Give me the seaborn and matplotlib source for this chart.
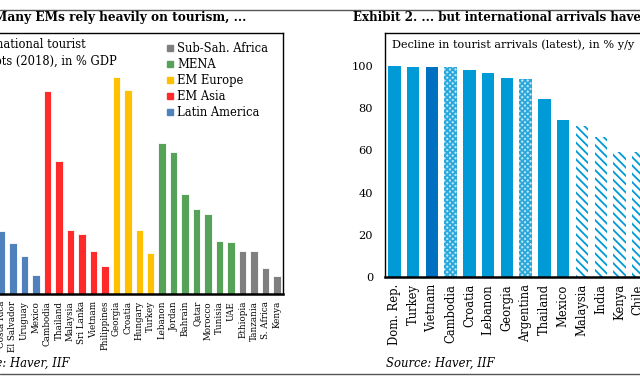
import numpy as np
import pandas as pd
import matplotlib
matplotlib.use("Agg")
import matplotlib.pyplot as plt
from matplotlib.lines import Line2D
import seaborn as sns

# ---------------- data ----------------
left_countries = ["Costa Rica", "El Salvador", "Uruguay", "Mexico",
                  "Cambodia", "Thailand", "Malaysia", "Sri Lanka", "Vietnam", "Philippines",
                  "Georgia", "Croatia", "Hungary", "Turkey",
                  "Lebanon", "Jordan", "Bahrain", "Qatar", "Morocco", "Tunisia", "UAE",
                  "Ethiopia", "Tanzania", "S. Africa", "Kenya"]
left_regions = ["Latin America"] * 4 + ["EM Asia"] * 6 + ["EM Europe"] * 4 + ["MENA"] * 7 + ["Sub-Sah. Africa"] * 4
left_values = [6.0, 4.9, 3.6, 1.8,
               19.4, 12.7, 6.1, 5.7, 4.1, 2.7,
               20.8, 19.5, 6.1, 3.9,
               14.5, 13.6, 9.6, 8.1, 7.7, 5.1, 5.0,
               4.1, 4.1, 2.5, 1.7]
legend_order = ["Sub-Sah. Africa", "MENA", "EM Europe", "EM Asia", "Latin America"]
region_colors = {"Sub-Sah. Africa": "#7f7f7f", "MENA": "#55a258", "EM Europe": "#ffc000",
                 "EM Asia": "#ff2a2a", "Latin America": "#4f81bd"}

right_countries = ["Dom. Rep.", "Turkey", "Vietnam", "Cambodia", "Croatia", "Lebanon",
                   "Georgia", "Argentina", "Thailand", "Mexico", "Malaysia", "India",
                   "Kenya", "Chile"]
right_values = [100, 99.5, 99.5, 99.2, 97.8, 96.4, 94.2, 93.6, 84.3, 74.2, 71.4, 66.4, 59.1, 59.1]
right_kind = ["solid", "solid", "dark", "dots", "solid", "solid", "solid", "dots",
              "solid", "solid", "diag", "diag", "diag", "diag"]
right_yticks = [0, 20, 40, 60, 80, 100]

# ---------------- figure ----------------
sns.set_theme(style="white")
serif = ["DejaVu Serif"]
plt.rcParams["font.family"] = serif
plt.rcParams["hatch.linewidth"] = 1.3
plt.rcParams["text.color"] = "black"
plt.rcParams["xtick.color"] = "black"
plt.rcParams["ytick.color"] = "black"

W, H = 640, 385
fig = plt.figure(figsize=(6.4, 3.85), dpi=100)

def fx(px):
    return px / W

def fy(py):
    return 1 - py / H

# ---- left panel ----
axl = fig.add_axes([fx(-20), fy(294), fx(303), (294 - 33) / H])
dfl = pd.DataFrame({"country": left_countries, "region": left_regions, "value": left_values})
sns.barplot(data=dfl, x="country", y="value", hue="region", palette=region_colors,
            dodge=False, width=0.65, legend=False, ax=axl, saturation=1,
            edgecolor="white", linewidth=0.6)
axl.set_xlim(-1.87, 24.52)
axl.set_ylim(0, 25)
axl.set_xlabel("")
axl.set_ylabel("")
axl.set_yticks([])
axl.tick_params(axis="x", length=0, pad=5, labelsize=6.3, labelcolor="black")
for lab in axl.get_xticklabels():
    lab.set_rotation(90)
    lab.set_va("top")
    lab.set_ha("center")
for s in axl.spines.values():
    s.set_color("black")
    s.set_linewidth(1.0)
axl.spines["bottom"].set_linewidth(1.8)

handles = [Line2D([0], [0], marker="s", linestyle="", markersize=5,
                  color=region_colors[r]) for r in legend_order]
axl.legend(handles, legend_order, loc="upper right", bbox_to_anchor=(fx(274), fy(36)),
           bbox_transform=fig.transFigure, frameon=False, fontsize=8.3,
           handlelength=0.6, handletextpad=0.3, labelspacing=0.26, borderpad=0,
           labelcolor="black")

fig.text(fx(86), fy(45), "International tourist", ha="right", va="center", fontsize=8.3)
fig.text(fx(117), fy(61), "receipts (2018), in % GDP", ha="right", va="center", fontsize=8.3)

# ---- right panel ----
axr = fig.add_axes([fx(385), fy(277.3), fx(315), (277.3 - 32.7) / H])
right_palette = {"solid": "#009ad6", "dark": "#0070c0", "dots": "#009ad6", "diag": "#009ad6"}
dfr = pd.DataFrame({"country": right_countries, "value": right_values})
sns.barplot(data=dfr, x="country", y="value", hue="country",
            palette=[right_palette[k] for k in right_kind], width=0.66, legend=False,
            ax=axr, saturation=1, linewidth=0)
for patch, kind in zip(axr.patches, right_kind):
    if kind == "dots":
        patch.set_facecolor("#bfe6f6")
        patch.set_edgecolor("#2aa8dc")
        patch.set_hatch("xxxxxx")
    elif kind == "diag":
        patch.set_facecolor("white")
        patch.set_edgecolor("#009ad6")
        patch.set_hatch("\\\\\\\\")
axr.set_xlim(-0.5, (700 - 394.5) / 18.75)
axr.set_ylim(0, 115.6)
axr.set_yticks(right_yticks)
axr.set_xlabel("")
axr.set_ylabel("")
axr.tick_params(axis="y", length=0, pad=8.6, labelsize=8.2, labelcolor="black")
axr.tick_params(axis="x", length=0, pad=5, labelsize=8.3, labelcolor="black")
for lab in axr.get_xticklabels():
    lab.set_rotation(90)
    lab.set_va("top")
    lab.set_ha("center")
for s in axr.spines.values():
    s.set_color("black")
    s.set_linewidth(1.0)
axr.spines["bottom"].set_linewidth(1.8)
fig.text(fx(392), fy(45), "Decline in tourist arrivals (latest), in % y/y",
         ha="left", va="center", fontsize=8.1)

# ---- titles, sources, rules ----
fig.text(fx(246), fy(17), "Exhibit 1. Many EMs rely heavily on tourism, ...",
         ha="right", va="center", fontsize=8.7, fontweight="bold")
fig.text(fx(353), fy(17), "Exhibit 2. ... but international arrivals have plunged",
         ha="left", va="center", fontsize=8.6, fontweight="bold")
fig.text(fx(70), fy(363), "Source: Haver, IIF", ha="right", va="center",
         fontsize=8.4, style="italic")
fig.text(fx(386), fy(363), "Source: Haver, IIF", ha="left", va="center",
         fontsize=8.4, style="italic")
fig.add_artist(Line2D([0, 1], [fy(9.5), fy(9.5)], transform=fig.transFigure,
                      color="#555555", linewidth=1.0))
fig.add_artist(Line2D([0, 1], [fy(374), fy(374)], transform=fig.transFigure,
                      color="#555555", linewidth=1.0))

fig.savefig("out.png", dpi=100)
